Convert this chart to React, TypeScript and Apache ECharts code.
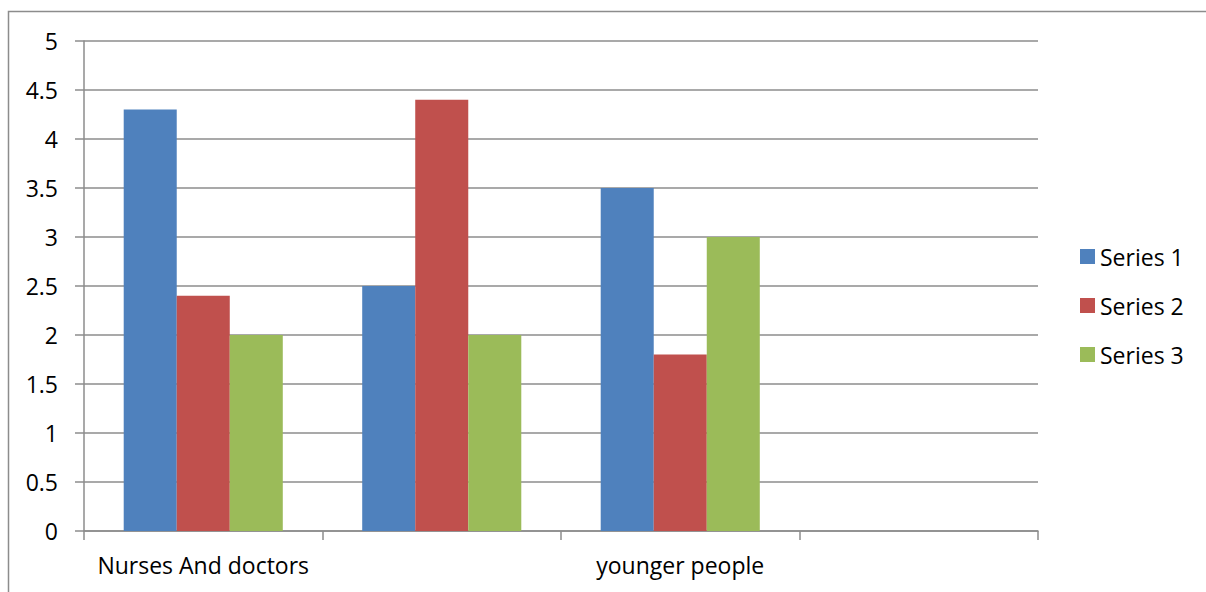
import React, { useEffect, useRef } from "react";
import * as echarts from "echarts";

const categories = ["Nurses And doctors", "", "younger people", ""];
const series1 = [4.3, 2.5, 3.5, null];
const series2 = [2.4, 4.4, 1.8, null];
const series3 = [2, 2, 3, null];
const seriesNames = ["Series 1", "Series 2", "Series 3"];
const colors = ["#4F81BD", "#C0504D", "#9BBB59"];

const FONT = "'Open Sans', 'Noto Sans', sans-serif";
const GRAY = "#8c8c8c";
const FS = 23;

export default function App() {
  const ref = useRef<HTMLDivElement>(null);
  useEffect(() => {
    if (!ref.current) return;
    const chart = echarts.init(ref.current, null, { renderer: "svg" });
    const values = [series1, series2, series3];
    chart.setOption({
      animation: false,
      backgroundColor: "#ffffff",
      textStyle: { fontFamily: FONT },
      graphic: [
        {
          type: "rect",
          shape: { x: 8.5, y: 11.5, width: 1400, height: 800 },
          style: { fill: "none", stroke: GRAY, lineWidth: 1.5 },
          silent: true,
        },
      ],
      grid: { left: 84, top: 41, right: 168, bottom: 61, containLabel: false },
      legend: {
        orient: "vertical",
        left: 1080,
        top: 245,
        padding: 0,
        itemWidth: 15,
        itemHeight: 15,
        itemGap: 26,
        icon: "rect",
        data: seriesNames,
        textStyle: { fontFamily: FONT, fontSize: FS, lineHeight: 23, color: "#000" },
      },
      xAxis: {
        type: "category",
        data: categories,
        axisLine: { lineStyle: { color: GRAY, width: 1.5 } },
        axisTick: { show: true, length: 9, lineStyle: { color: GRAY, width: 1.5 } },
        axisLabel: { fontFamily: FONT, fontSize: FS, color: "#000", margin: 22, interval: 0 },
      },
      yAxis: {
        type: "value",
        min: 0,
        max: 5,
        interval: 0.5,
        axisLine: { show: true, lineStyle: { color: GRAY, width: 1.5 } },
        axisTick: { show: true, length: 9, lineStyle: { color: GRAY, width: 1.5 } },
        splitLine: { lineStyle: { color: GRAY, width: 1.5 } },
        axisLabel: { fontFamily: FONT, fontSize: FS, color: "#000", margin: 26 },
      },
      series: seriesNames.map((name, i) => ({
        name,
        type: "bar",
        data: values[i].map((v) => (v === null ? "-" : v)),
        itemStyle: { color: colors[i] },
        barGap: "0%",
        barCategoryGap: "33.3%",
      })),
    });
    return () => chart.dispose();
  }, []);
  return (
    <div
      ref={ref}
      style={{ position: "absolute", left: 0, top: 0, width: 1206, height: 592 }}
    />
  );
}
